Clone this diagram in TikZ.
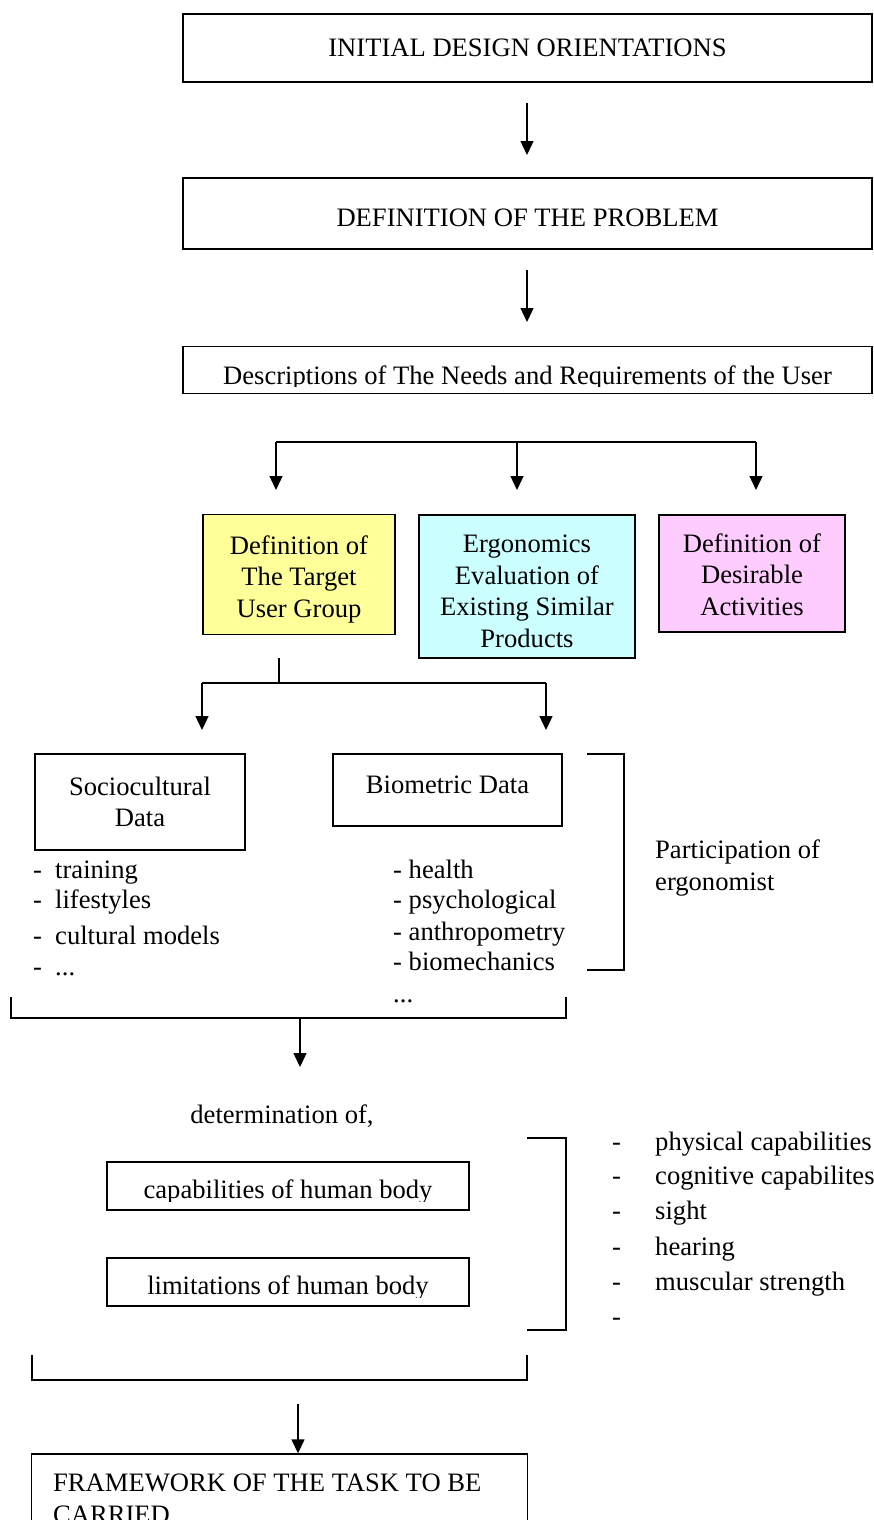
\documentclass[tikz,border=0pt]{standalone}
\usepackage{fontspec}
\setmainfont{Liberation Serif}
\usepackage{xcolor}
\usetikzlibrary{arrows.meta}
\usetikzlibrary{positioning}
\usetikzlibrary{calc}
\definecolor{targetColor}{RGB}{255,255,153}
\definecolor{evalColor}{RGB}{204,255,255}
\definecolor{activColor}{RGB}{255,204,255}

\begin{document}
\begin{tikzpicture}[x=1pt,y=-1pt,
  every node/.style={font=\fontsize{26.6}{31.5}\selectfont, inner sep=0pt},
  box/.style={draw, line width=1.4pt, align=center},
  multi/.style={align=center, anchor=base},
  bar/.style={line width=1.4pt},
  link/.style={line width=1.4pt, -{Triangle[length=14pt,width=13pt]}}]
\useasboundingbox (0,0) rectangle (874,1520);
\clip (0,0) rectangle (874,1520);

\node [box, minimum width=689pt, minimum height=68pt] (orient) at (527.5,48) {INITIAL DESIGN ORIENTATIONS};
\node [box, minimum width=689pt, minimum height=71pt] (problem) at (527.5,213.5) {};
\node [multi] (problemText) at (527.5,226) {DEFINITION OF THE PROBLEM};
\node [box, minimum width=689pt, minimum height=47pt] (needs) at (527.5,370) {};
\begin{scope}
\clip (needs.north west) rectangle (needs.east |- 0,386);
\node [anchor=base] (needsText) at (527.5,384) {Descriptions of The Needs and Requirements of the User};
\end{scope}

\coordinate (o1) at (527,103);
\coordinate (o2) at (527,155);
\draw [link] (o1) -- (o2);
\coordinate (p1) at (527,270);
\coordinate (p2) at (527,322);
\draw [link] (p1) -- (p2);

\coordinate (splitL) at (276,442);
\coordinate (splitM) at (517,442);
\coordinate (splitR) at (756,442);
\draw [bar] (splitL) -- (splitR);
\draw [link] (splitL) -- ($(splitL)+(0,48)$);
\draw [link] (splitM) -- ($(splitM)+(0,48)$);
\draw [link] (splitR) -- ($(splitR)+(0,48)$);

\node [box, fill=targetColor, minimum width=192pt, minimum height=120pt] (target) at (299,574.5) {};
\node [multi] (targetText) at (299,617) {Definition of\\The Target\\User Group};
\node [box, fill=evalColor, minimum width=216pt, minimum height=143pt] (eval) at (527,586.5) {};
\node [multi] (evalText) at (527,647) {Ergonomics\\Evaluation of\\Existing Similar\\Products};
\node [box, fill=activColor, minimum width=186pt, minimum height=117pt] (activ) at (752,573.5) {};
\node [multi] (activText) at (752,615) {Definition of\\Desirable\\Activities};

\coordinate (stem) at (279,658);
\coordinate (fork) at (279,683);
\coordinate (forkL) at (202,683);
\coordinate (forkR) at (546,683);
\draw [bar] (stem) -- (fork);
\draw [bar] (forkL) -- (forkR);
\draw [link] (forkL) -- ($(forkL)+(0,47)$);
\draw [link] (forkR) -- ($(forkR)+(0,47)$);

\node [box, minimum width=210pt, minimum height=96pt] (socio) at (140,802) {Sociocultural\\Data};
\node [box, minimum width=229pt, minimum height=72pt] (bio) at (447.5,790) {};
\node [multi] (bioText) at (447.5,793) {Biometric Data};

\node [anchor=base west] (s1d) at (33,878) {-};
\node [anchor=base west] (s1) at (55,878) {training};
\node [anchor=base west] (s2d) at (33,908) {-};
\node [anchor=base west] (s2) at (55,908) {lifestyles};
\node [anchor=base west] (s3d) at (33,944) {-};
\node [anchor=base west] (s3) at (55,944) {cultural models};
\node [anchor=base west] (s4d) at (33,975) {-};
\node [anchor=base west] (s4) at (55,975) {...};

\node [anchor=base west] (b1) at (393,878) {- health};
\node [anchor=base west] (b2) at (393,908) {- psychological};
\node [anchor=base west] (b3) at (393,940) {- anthropometry};
\node [anchor=base west] (b4) at (393,970) {- biomechanics};
\node [anchor=base west] (b5) at (393,1002) {...};

\coordinate (ergT) at (587,754);
\coordinate (ergB) at (587,970);
\draw [bar] (ergT) -- (624,754) -- (624,970) -- (ergB);
\node [anchor=base west, align=left] (ergo) at (655,890) {Participation of\\ergonomist};

\coordinate (dataL) at (11,997);
\coordinate (dataR) at (566,997);
\draw [bar] (dataL) -- (11,1018) -- (566,1018) -- (dataR);
\coordinate (d1) at (300,1018);
\coordinate (d2) at (300,1067);
\draw [link] (d1) -- (d2);

\node [anchor=base] (determ) at (282,1123) {determination of,};

\node [box, minimum width=362pt, minimum height=48pt] (capab) at (288,1186) {};
\begin{scope}
\clip (capab.north west) rectangle (capab.east |- 0,1201);
\node [anchor=base] (capabText) at (288,1198) {capabilities of human body};
\end{scope}
\node [box, minimum width=362pt, minimum height=48pt] (limit) at (288,1282) {};
\begin{scope}
\clip (limit.north west) rectangle (limit.east |- 0,1297);
\node [anchor=base] (limitText) at (288,1294) {limitations of human body};
\end{scope}

\coordinate (humT) at (527,1138);
\coordinate (humB) at (527,1330);
\draw [bar] (humT) -- (566,1138) -- (566,1330) -- (humB);

\node [anchor=base west] (h1d) at (612,1150) {-};
\node [anchor=base west] (h1) at (655,1150) {physical capabilities};
\node [anchor=base west] (h2d) at (612,1184) {-};
\node [anchor=base west] (h2) at (655,1184) {cognitive capabilites};
\node [anchor=base west] (h3d) at (612,1219) {-};
\node [anchor=base west] (h3) at (655,1219) {sight};
\node [anchor=base west] (h4d) at (612,1255) {-};
\node [anchor=base west] (h4) at (655,1255) {hearing};
\node [anchor=base west] (h5d) at (612,1290) {-};
\node [anchor=base west] (h5) at (655,1290) {muscular strength};
\node [anchor=base west] (h6d) at (612,1325) {-};

\coordinate (bodyL) at (32,1355);
\coordinate (bodyR) at (527,1355);
\draw [bar] (bodyL) -- (32,1380) -- (527,1380) -- (bodyR);
\coordinate (f1) at (298,1404);

\node [box, minimum width=496pt, minimum height=120pt] (frame) at (279.5,1514) {};
\node [anchor=base west, align=left] (frameText) at (53,1523) {FRAMEWORK OF THE TASK TO BE\\CARRIED};
\draw [link] (f1) -- (frame.north -| f1);
\end{tikzpicture}
\end{document}
